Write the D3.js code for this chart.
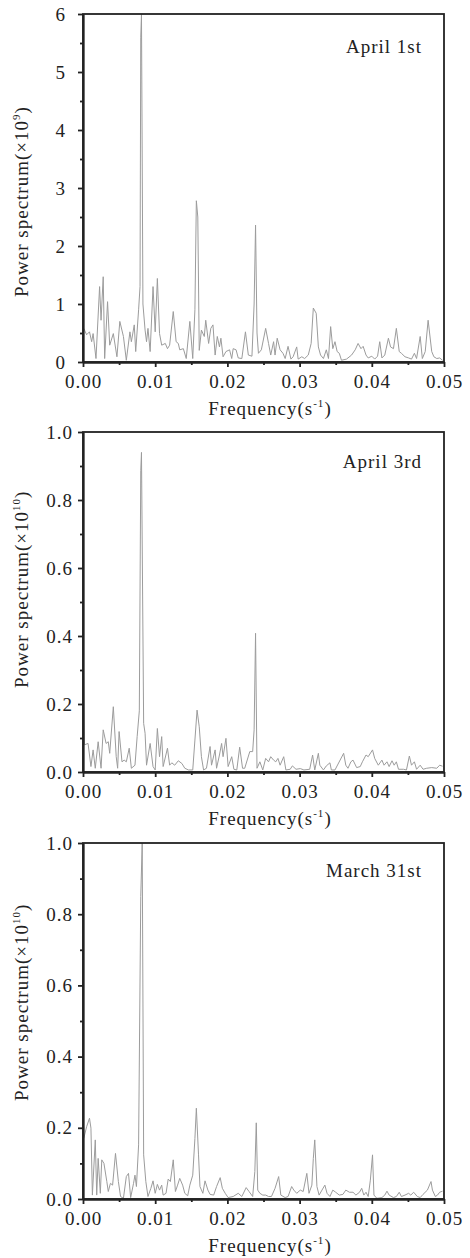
<!DOCTYPE html>
<meta charset="utf-8">
<style>
  /* set the CSS */
  body {
    margin: 0;
    background: #fff;
  }

  .line {
    fill: none;
    stroke: #9c9c9c;
    stroke-width: 1px;
  }

  .axis path,
  .axis line {
    stroke: #222;
    stroke-width: 1.8px;
  }

  .axis text,
  .label {
    font-family: "Liberation Serif", "Times New Roman", serif;
    font-size: 19px;
    fill: #222;
    letter-spacing: 1px;
  }

  .frame {
    fill: none;
    stroke: #222;
    stroke-width: 1.8px;
  }
</style>

<body>

  <!-- load the d3.js library -->
  <script src="https://d3js.org/d3.v7.min.js"></script>
  <script>
    // spectra: [frequency (1/s), power]
    var spectrumApr1 = [
      [0.0001, 0.58], [0.0005, 0.47], [0.0009, 0.52], [0.0012, 0.35], [0.0014, 0.49], [0.0018, 0.06],
      [0.0023, 1.30], [0.0025, 0.72], [0.0028, 1.47], [0.0030, 0.06], [0.0034, 1.04], [0.0037, 0.29],
      [0.0042, 0.49], [0.0047, 0.09], [0.0051, 0.70], [0.0056, 0.44], [0.0060, 0.03], [0.0065, 0.52],
      [0.0067, 0.35], [0.0071, 0.64], [0.0073, 0.18], [0.0077, 0.90], [0.0079, 1.30], [0.0080, 5.60],
      [0.0081, 6.00], [0.0083, 1.00], [0.0086, 0.55], [0.0088, 0.35], [0.0090, 0.58], [0.0093, 0.18],
      [0.0097, 1.30], [0.0100, 0.52], [0.0103, 1.44], [0.0106, 0.49], [0.0109, 0.29], [0.0114, 0.32],
      [0.0117, 0.23], [0.0120, 0.29], [0.0125, 0.87], [0.0129, 0.35], [0.0132, 0.32], [0.0134, 0.21],
      [0.0139, 0.23], [0.0143, 0.06], [0.0148, 0.70], [0.0152, 0.06], [0.0155, 0.90], [0.0157, 2.78],
      [0.0159, 2.50], [0.0161, 0.20], [0.0164, 0.55], [0.0168, 0.44], [0.0170, 0.72], [0.0174, 0.32],
      [0.0177, 0.58], [0.0180, 0.64], [0.0183, 0.12], [0.0186, 0.44], [0.0189, 0.26], [0.0191, 0.41],
      [0.0194, 0.09], [0.0198, 0.18], [0.0203, 0.21], [0.0206, 0.06], [0.0208, 0.23], [0.0212, 0.21],
      [0.0215, 0.07], [0.0220, 0.06], [0.0225, 0.52], [0.0229, 0.12], [0.0234, 0.10], [0.0237, 1.00],
      [0.0239, 2.36], [0.0241, 0.50], [0.0243, 0.15], [0.0247, 0.21], [0.0253, 0.58], [0.0257, 0.32],
      [0.0260, 0.12], [0.0264, 0.35], [0.0266, 0.12], [0.0269, 0.41], [0.0273, 0.21], [0.0277, 0.15],
      [0.0280, 0.06], [0.0284, 0.27], [0.0288, 0.05], [0.0291, 0.09], [0.0296, 0.26], [0.0298, 0.05],
      [0.0303, 0.09], [0.0307, 0.06], [0.0312, 0.12], [0.0316, 0.32], [0.0319, 0.93], [0.0323, 0.84],
      [0.0326, 0.26], [0.0329, 0.12], [0.0333, 0.06], [0.0337, 0.21], [0.0340, 0.06], [0.0343, 0.61],
      [0.0346, 0.23], [0.0349, 0.35], [0.0352, 0.18], [0.0355, 0.15], [0.0358, 0.03], [0.0365, 0.05],
      [0.0372, 0.12], [0.0377, 0.21], [0.0381, 0.32], [0.0385, 0.23], [0.0388, 0.27], [0.0392, 0.12],
      [0.0395, 0.07], [0.0400, 0.10], [0.0404, 0.05], [0.0408, 0.10], [0.0411, 0.35], [0.0414, 0.07],
      [0.0418, 0.12], [0.0423, 0.41], [0.0426, 0.26], [0.0430, 0.23], [0.0434, 0.58], [0.0438, 0.18],
      [0.0441, 0.15], [0.0446, 0.09], [0.0451, 0.07], [0.0455, 0.05], [0.0459, 0.15], [0.0462, 0.06],
      [0.0467, 0.44], [0.0470, 0.06], [0.0474, 0.18], [0.0478, 0.72], [0.0483, 0.18], [0.0486, 0.09],
      [0.0490, 0.06], [0.0494, 0.07], [0.0498, 0.03]
    ];

    var spectrumApr3 = [
      [0.0000, 0.43], [0.0002, 0.08], [0.0007, 0.084], [0.0011, 0.016], [0.0014, 0.065], [0.0017, 0.011],
      [0.0021, 0.089], [0.0025, 0.011], [0.0028, 0.124], [0.0032, 0.084], [0.0035, 0.089], [0.0037, 0.055],
      [0.0042, 0.192], [0.0046, 0.045], [0.0048, 0.011], [0.0050, 0.119], [0.0054, 0.030], [0.0057, 0.035],
      [0.0060, 0.030], [0.0064, 0.070], [0.0067, 0.011], [0.0072, 0.020], [0.0075, 0.104], [0.0078, 0.180],
      [0.0080, 0.886], [0.0081, 0.940], [0.0084, 0.143], [0.0086, 0.114], [0.0088, 0.020], [0.0093, 0.084],
      [0.0097, 0.016], [0.0100, 0.006], [0.0103, 0.128], [0.0106, 0.045], [0.0109, 0.104], [0.0111, 0.016],
      [0.0117, 0.070], [0.0120, 0.020], [0.0123, 0.027], [0.0127, 0.020], [0.0132, 0.033], [0.0137, 0.025],
      [0.0141, 0.011], [0.0146, 0.006], [0.0152, 0.006], [0.0155, 0.094], [0.0158, 0.182], [0.0161, 0.133],
      [0.0164, 0.045], [0.0167, 0.006], [0.0171, 0.011], [0.0176, 0.075], [0.0178, 0.020], [0.0183, 0.065],
      [0.0185, 0.011], [0.0189, 0.050], [0.0192, 0.084], [0.0194, 0.045], [0.0198, 0.099], [0.0201, 0.016],
      [0.0206, 0.045], [0.0209, 0.008], [0.0213, 0.006], [0.0217, 0.073], [0.0221, 0.011], [0.0224, 0.011],
      [0.0231, 0.060], [0.0235, 0.060], [0.0237, 0.124], [0.0239, 0.408], [0.0241, 0.011], [0.0245, 0.030],
      [0.0249, 0.006], [0.0253, 0.040], [0.0257, 0.030], [0.0260, 0.045], [0.0264, 0.035], [0.0267, 0.030],
      [0.0270, 0.040], [0.0273, 0.020], [0.0278, 0.045], [0.0281, 0.006], [0.0287, 0.008], [0.0290, 0.018],
      [0.0295, 0.008], [0.0301, 0.010], [0.0306, 0.006], [0.0314, 0.008], [0.0318, 0.050], [0.0321, 0.006],
      [0.0326, 0.055], [0.0328, 0.020], [0.0333, 0.006], [0.0337, 0.018], [0.0342, 0.027], [0.0344, 0.006],
      [0.0349, 0.006], [0.0361, 0.055], [0.0364, 0.020], [0.0367, 0.011], [0.0371, 0.030], [0.0374, 0.035],
      [0.0379, 0.013], [0.0384, 0.016], [0.0387, 0.030], [0.0392, 0.050], [0.0395, 0.045], [0.0401, 0.065],
      [0.0404, 0.040], [0.0409, 0.020], [0.0414, 0.035], [0.0417, 0.020], [0.0421, 0.030], [0.0424, 0.016],
      [0.0428, 0.033], [0.0431, 0.020], [0.0434, 0.030], [0.0437, 0.008], [0.0444, 0.008], [0.0448, 0.006],
      [0.0452, 0.047], [0.0455, 0.020], [0.0459, 0.030], [0.0462, 0.008], [0.0467, 0.020], [0.0471, 0.008],
      [0.0476, 0.011], [0.0483, 0.013], [0.0490, 0.011], [0.0494, 0.020], [0.0498, 0.017]
    ];

    var spectrumMar31 = [
      [0.0001, 0.170], [0.0005, 0.203], [0.0009, 0.227], [0.0011, 0.199], [0.0013, 0.011], [0.0017, 0.166],
      [0.0019, 0.011], [0.0021, 0.114], [0.0024, 0.016], [0.0026, 0.110], [0.0029, 0.100], [0.0033, 0.049],
      [0.0035, 0.021], [0.0038, 0.044], [0.0041, 0.039], [0.0045, 0.128], [0.0049, 0.049], [0.0052, 0.007],
      [0.0056, 0.002], [0.0060, 0.063], [0.0063, 0.072], [0.0066, 0.004], [0.0070, 0.044], [0.0072, 0.067],
      [0.0074, 0.035], [0.0077, 0.152], [0.0080, 0.850], [0.0082, 1.000], [0.0084, 0.124], [0.0087, 0.049],
      [0.0090, 0.007], [0.0094, 0.030], [0.0097, 0.051], [0.0100, 0.016], [0.0103, 0.041], [0.0106, 0.025],
      [0.0109, 0.039], [0.0111, 0.011], [0.0115, 0.016], [0.0118, 0.056], [0.0121, 0.049], [0.0125, 0.110],
      [0.0128, 0.021], [0.0131, 0.039], [0.0134, 0.058], [0.0138, 0.039], [0.0141, 0.016], [0.0145, 0.009],
      [0.0148, 0.039], [0.0152, 0.067], [0.0155, 0.170], [0.0157, 0.255], [0.0160, 0.124], [0.0162, 0.035],
      [0.0166, 0.016], [0.0169, 0.051], [0.0173, 0.025], [0.0176, 0.013], [0.0181, 0.011], [0.0185, 0.035],
      [0.0190, 0.060], [0.0193, 0.030], [0.0197, 0.016], [0.0201, 0.004], [0.0208, 0.007], [0.0215, 0.016],
      [0.0220, 0.007], [0.0226, 0.032], [0.0230, 0.021], [0.0235, 0.007], [0.0238, 0.077], [0.0240, 0.214],
      [0.0242, 0.025], [0.0245, 0.016], [0.0249, 0.011], [0.0253, 0.011], [0.0257, 0.007], [0.0261, 0.007],
      [0.0266, 0.030], [0.0271, 0.063], [0.0274, 0.011], [0.0280, 0.004], [0.0284, 0.007], [0.0289, 0.035],
      [0.0292, 0.025], [0.0296, 0.016], [0.0301, 0.025], [0.0305, 0.021], [0.0310, 0.072], [0.0313, 0.016],
      [0.0317, 0.039], [0.0319, 0.114], [0.0321, 0.166], [0.0324, 0.035], [0.0327, 0.011], [0.0331, 0.025],
      [0.0335, 0.039], [0.0338, 0.016], [0.0342, 0.007], [0.0346, 0.025], [0.0350, 0.019], [0.0355, 0.011],
      [0.0360, 0.013], [0.0364, 0.025], [0.0369, 0.019], [0.0374, 0.019], [0.0378, 0.011], [0.0383, 0.019],
      [0.0386, 0.030], [0.0389, 0.011], [0.0392, 0.019], [0.0395, 0.007], [0.0398, 0.053], [0.0401, 0.124],
      [0.0403, 0.011], [0.0407, 0.002], [0.0414, 0.004], [0.0418, 0.011], [0.0421, 0.022], [0.0424, 0.011],
      [0.0430, 0.004], [0.0434, 0.007], [0.0438, 0.019], [0.0441, 0.007], [0.0446, 0.011], [0.0451, 0.016],
      [0.0454, 0.011], [0.0458, 0.019], [0.0463, 0.007], [0.0467, 0.004], [0.0471, 0.013], [0.0477, 0.025],
      [0.0482, 0.049], [0.0484, 0.025], [0.0488, 0.007], [0.0491, 0.011], [0.0494, 0.019], [0.0498, 0.022]
    ];

    // tick values and labels
    var xTicks = [0, 0.01, 0.02, 0.03, 0.04, 0.05];
    var xMinorTicks = [0.005, 0.015, 0.025, 0.035, 0.045];
    var yTicksApr1 = [0, 1, 2, 3, 4, 5, 6];
    var yMinorApr1 = [0.5, 1.5, 2.5, 3.5, 4.5, 5.5];
    var yTicksUnit = [0, 0.2, 0.4, 0.6, 0.8, 1.0];
    var yMinorUnit = [0.1, 0.3, 0.5, 0.7, 0.9];
    var titles = ["April 1st", "April 3rd", "March 31st"];
    var yExponents = ["9", "10", "10"];

    // layout of the three stacked panels
    var left = 83,
      right = 444;
    var panels = [
      { data: spectrumApr1, yMax: 6, ticks: yTicksApr1, minor: yMinorApr1, fmt: d3.format("d"),
        top: 14, bottom: 362, pad: 12, titleY: 53, labelY: 297 },
      { data: spectrumApr3, yMax: 1, ticks: yTicksUnit, minor: yMinorUnit, fmt: d3.format(".1f"),
        top: 432, bottom: 772, pad: 5, titleY: 468, labelY: 688 },
      { data: spectrumMar31, yMax: 1, ticks: yTicksUnit, minor: yMinorUnit, fmt: d3.format(".1f"),
        top: 843, bottom: 1199, pad: 5, titleY: 877, labelY: 1101 }
    ];

    var svg = d3.select("body").append("svg")
      .attr("width", 470)
      .attr("height", 1258);

    // set the x range (shared)
    var x = d3.scaleLinear().domain([0, 0.05]).range([left, right]);

    panels.forEach(function(p, i) {
      var y = d3.scaleLinear().domain([0, p.yMax]).range([p.bottom, p.top]);
      var g = svg.append("g");

      // define the line
      var valueline = d3.line()
        .x(function(d) { return x(d[0]); })
        .y(function(d) { return y(d[1]); });

      g.append("path")
        .datum(p.data)
        .attr("class", "line")
        .attr("d", valueline);

      // frame (top + right)
      g.append("rect")
        .attr("class", "frame")
        .attr("x", left)
        .attr("y", p.top)
        .attr("width", right - left)
        .attr("height", p.bottom - p.top);

      // Add the X Axis
      g.append("g")
        .attr("class", "axis")
        .attr("transform", "translate(0," + p.bottom + ")")
        .call(d3.axisBottom(x).tickValues(xTicks).tickFormat(d3.format(".2f"))
          .tickSize(5).tickSizeOuter(0).tickPadding(8));
      g.append("g")
        .attr("class", "axis")
        .attr("transform", "translate(0," + p.bottom + ")")
        .call(d3.axisBottom(x).tickValues(xMinorTicks).tickFormat("").tickSize(3).tickSizeOuter(0));

      // Add the Y Axis
      g.append("g")
        .attr("class", "axis")
        .attr("transform", "translate(" + left + ",0)")
        .call(d3.axisLeft(y).tickValues(p.ticks).tickFormat(p.fmt)
          .tickSize(5).tickSizeOuter(0).tickPadding(p.pad));
      g.append("g")
        .attr("class", "axis")
        .attr("transform", "translate(" + left + ",0)")
        .call(d3.axisLeft(y).tickValues(p.minor).tickFormat("").tickSize(3).tickSizeOuter(0));

      // panel title
      g.append("text")
        .attr("class", "label")
        .attr("x", 422)
        .attr("y", p.titleY)
        .attr("text-anchor", "end")
        .text(titles[i]);

      // x label
      var xl = g.append("text")
        .attr("class", "label")
        .attr("x", 270)
        .attr("y", p.bottom + 53)
        .attr("text-anchor", "middle");
      xl.append("tspan").text("Frequency(s");
      xl.append("tspan").attr("dy", -8).style("font-size", "11px").text("-1");
      xl.append("tspan").attr("dy", 8).text(")");

      // y label
      var yl = g.append("text")
        .attr("class", "label")
        .attr("transform", "rotate(-90)")
        .attr("x", -p.labelY)
        .attr("y", 28)
        .attr("text-anchor", "start");
      yl.append("tspan").text("Power spectrum(\u00d710");
      yl.append("tspan").attr("dy", -8).style("font-size", "11px").text(yExponents[i]);
      yl.append("tspan").attr("dy", 8).text(")");
    });
  </script>
</body>
